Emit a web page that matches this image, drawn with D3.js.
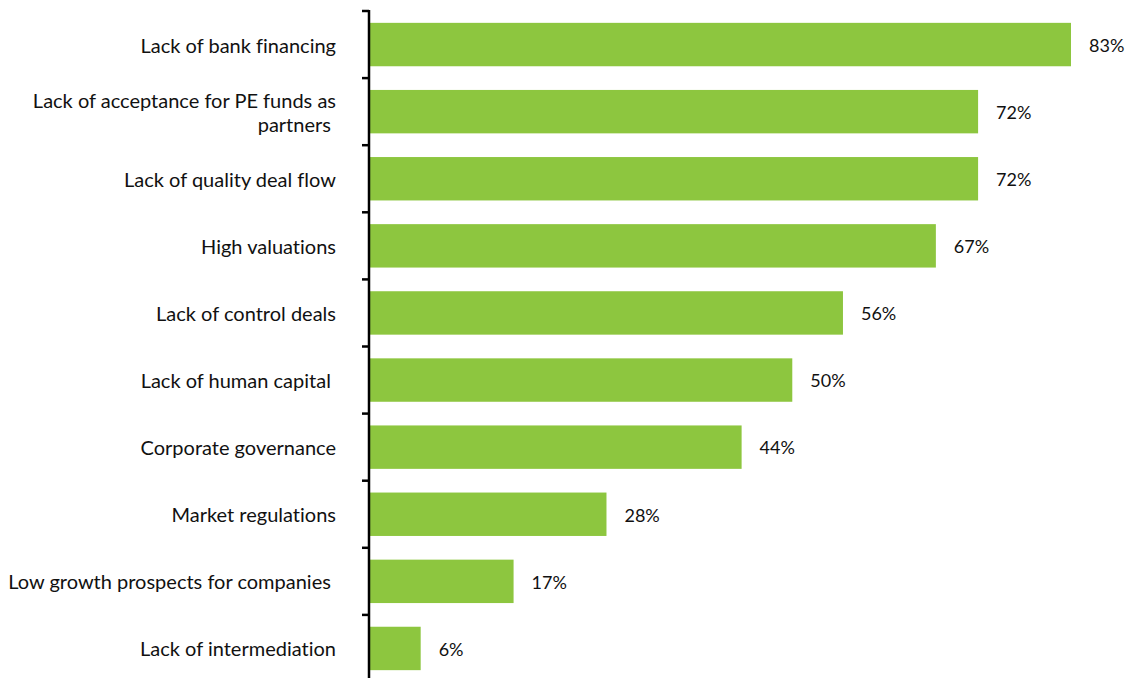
<!DOCTYPE html>
<html>
<head>
<meta charset="utf-8">
<script src="https://cdn.jsdelivr.net/npm/d3@7"></script>
<style>
  html, body { margin: 0; padding: 0; background: #fff; }
  svg text { font-family: Lato, "Open Sans", sans-serif; fill: #111; white-space: pre; font-variant-ligatures: none; }
</style>
</head>
<body>
<svg id="chart" width="1134" height="678"></svg>
<script>
// Obstacles to private equity investment, share of respondents (%)
const categories = [
  ["Lack of bank financing"],
  ["Lack of acceptance for PE funds as", "partners "],
  ["Lack of quality deal flow"],
  ["High valuations"],
  ["Lack of control deals"],
  ["Lack of human capital "],
  ["Corporate governance"],
  ["Market regulations"],
  ["Low growth prospects for companies "],
  ["Lack of intermediation"]
];
const values = [83, 72, 72, 67, 56, 50, 44, 28, 17, 6];
const valueLabels = values.map(v => v + "%");

const svg = d3.select("#chart");
const keys = categories.map((c, i) => i);

const x = d3.scaleLinear().domain([0, 83]).range([370, 1071]);
const y = d3.scaleBand().domain(keys).range([11, 682]).paddingInner(0.353).paddingOuter(0.1765);

const axisX = 369;
const step = y.step();
const boundaries = d3.range(keys.length + 1).map(i => y.range()[0] + i * step);

// bars
svg.append("g").selectAll("rect").data(values).join("rect")
  .attr("x", x(0))
  .attr("y", (d, i) => y(i))
  .attr("width", d => x(d) - x(0))
  .attr("height", y.bandwidth())
  .attr("fill", "#8dc63f");

// vertical axis with boundary ticks
const ax = svg.append("g");
ax.append("line")
  .attr("x1", axisX).attr("x2", axisX)
  .attr("y1", boundaries[0] - 1).attr("y2", 678)
  .attr("stroke", "#000").attr("stroke-width", 2.5);
ax.selectAll("line.tick").data(boundaries).join("line")
  .attr("class", "tick")
  .attr("x1", axisX - 7).attr("x2", axisX)
  .attr("y1", d => d).attr("y2", d => d)
  .attr("stroke", "#000").attr("stroke-width", 2.5);

// category labels
const lineH = 24;
svg.append("g").selectAll("text").data(categories).join("text")
  .attr("text-anchor", "end")
  .attr("font-size", 20)
  .each(function(lines, i) {
    const cy = y(i) + y.bandwidth() / 2 + 1;
    const t = d3.select(this);
    lines.forEach((ln, j) => {
      t.append("tspan")
        .attr("x", 336)
        .attr("y", cy + (j - (lines.length - 1) / 2) * lineH)
        .attr("dy", "0.35em")
        .text(ln);
    });
  });

// value labels
svg.append("g").selectAll("text").data(values).join("text")
  .attr("x", d => x(d) + 18)
  .attr("y", (d, i) => y(i) + y.bandwidth() / 2 + 1)
  .attr("dy", "0.35em")
  .attr("font-size", 18)
  .text((d, i) => valueLabels[i]);
</script>
</body>
</html>
